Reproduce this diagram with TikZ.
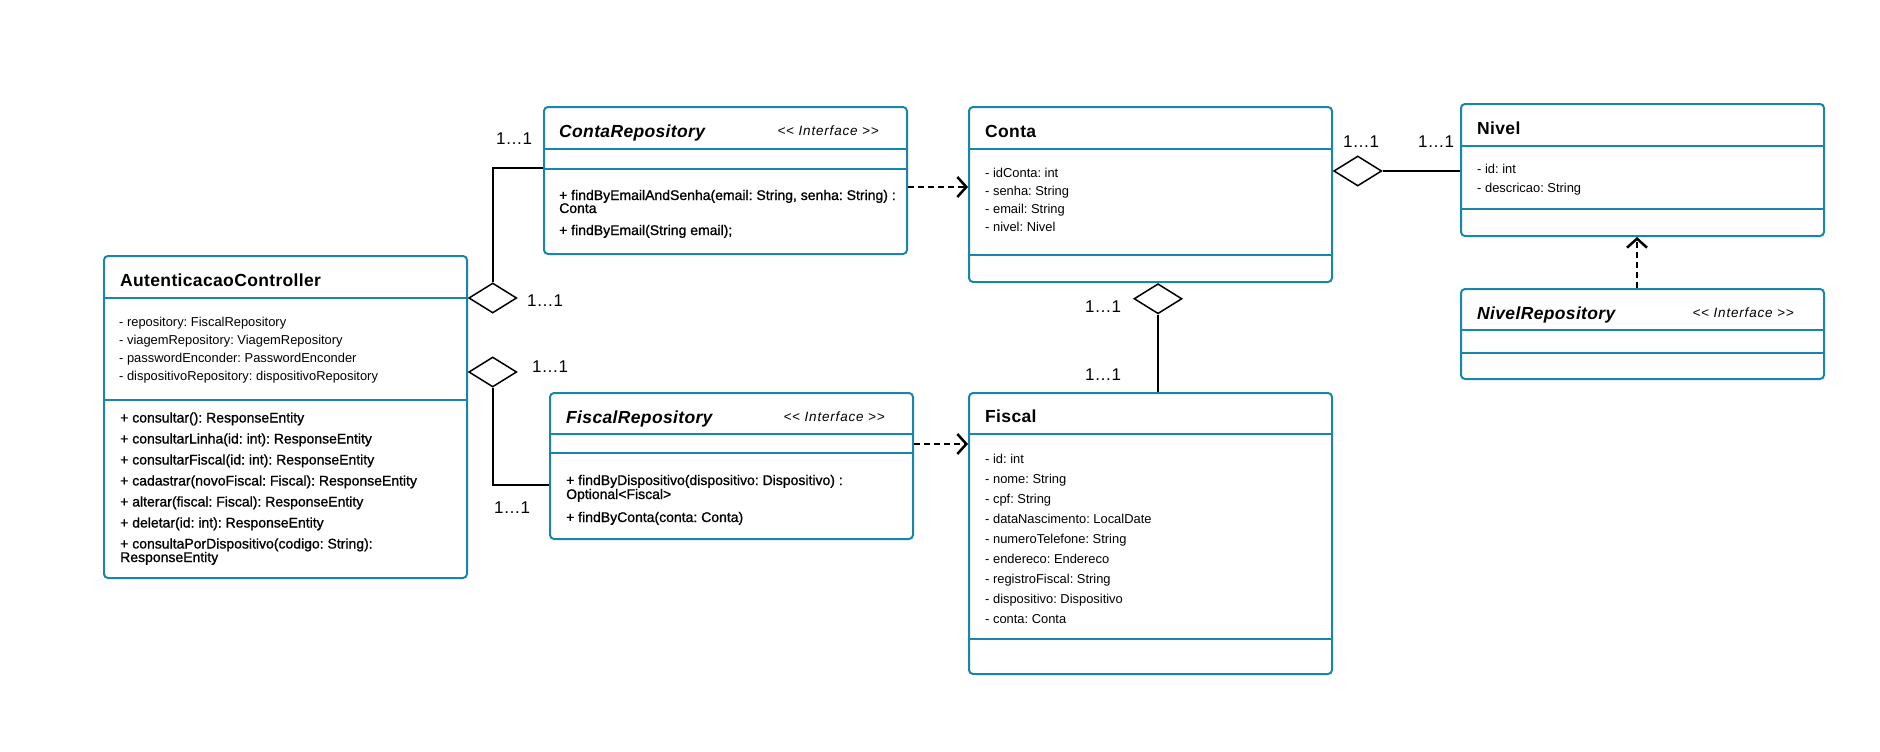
\documentclass[tikz,border=0pt]{standalone}
\usepackage{fontspec}
\setmainfont{Liberation Sans}
\newfontfamily\medfont[FakeBold=1]{Liberation Sans}
\newfontfamily\stereofont[LetterSpace=6]{Liberation Sans}
\newfontfamily\titlefont[LetterSpace=2]{Liberation Sans}
\usetikzlibrary{shapes.geometric,arrows.meta}
\frenchspacing

\definecolor{umlblue}{RGB}{24,133,170}

\tikzset{
  umlbox/.style={draw=umlblue, line width=2pt, rounded corners=4pt,
    anchor=north west, minimum width=363pt, inner sep=0pt},
  sep/.style={draw=umlblue, line width=2pt},
  title/.style={font=\titlefont\bfseries\fontsize{17.5}{20}\selectfont, anchor=base west, inner sep=0pt},
  ititle/.style={font=\titlefont\bfseries\itshape\fontsize{17.5}{20}\selectfont, anchor=base west, inner sep=0pt},
  stereo/.style={font=\stereofont\itshape\fontsize{13.5}{16}\selectfont, anchor=base east, inner sep=0pt},
  attr/.style={font=\fontsize{12.9}{15}\selectfont, anchor=base west, inner sep=0pt},
  oper/.style={font=\medfont\fontsize{14}{16}\selectfont, anchor=base west, inner sep=0pt},
  mult/.style={font=\fontsize{17}{20}\selectfont, inner sep=0pt},
  agg/.style={diamond, draw, line width=1.5pt, fill=white, minimum width=48pt,
    minimum height=30pt, inner sep=0pt},
  assoc/.style={line width=1.8pt},
  dep/.style={line width=2.5pt, dash pattern=on 6pt off 4pt,
    -{Straight Barb[length=9pt,width=20pt]}}
}

\begin{document}
\begin{tikzpicture}[x=1pt, y=-1pt]
  \useasboundingbox (0,0) rectangle (1880,752);

  % caixas das classes
  \node[umlbox, minimum height=322pt] (ctrl) at (103,255) {};
  \node[umlbox, minimum height=147pt] (contarepo) at (543,106) {};
  \node[umlbox, minimum height=146pt] (fiscalrepo) at (549,392) {};
  \node[umlbox, minimum height=175pt] (conta) at (968,106) {};
  \node[umlbox, minimum height=281pt] (fiscal) at (968,392) {};
  \node[umlbox, minimum height=132pt] (nivel) at (1460,103) {};
  \node[umlbox, minimum height=90pt] (nivelrepo) at (1460,288) {};

  % divisorias
  \draw[sep] (103,298) -- (466,298);
  \draw[sep] (103,400) -- (466,400);
  \draw[sep] (543,149) -- (906,149);
  \draw[sep] (543,169) -- (906,169);
  \draw[sep] (549,434) -- (912,434);
  \draw[sep] (549,453) -- (912,453);
  \draw[sep] (968,149) -- (1331,149);
  \draw[sep] (968,255) -- (1331,255);
  \draw[sep] (968,434) -- (1331,434);
  \draw[sep] (968,639) -- (1331,639);
  \draw[sep] (1460,146) -- (1823,146);
  \draw[sep] (1460,209) -- (1823,209);
  \draw[sep] (1460,330) -- (1823,330);
  \draw[sep] (1460,353) -- (1823,353);

  % AutenticacaoController
  \node[title] (ctrltitle) at (120,286) {AutenticacaoController};
  \foreach \t [count=\i from 0] in {- repository: FiscalRepository,
      - viagemRepository: ViagemRepository,
      - passwordEnconder: PasswordEnconder,
      - dispositivoRepository: dispositivoRepository} {
    \node[attr] (ctrlattr\i) at (119,326.5+18*\i) {\t};
  }
  \foreach \t [count=\i from 0] in {+ consultar(): ResponseEntity,
      + consultarLinha(id: int): ResponseEntity,
      + consultarFiscal(id: int): ResponseEntity,
      + cadastrar(novoFiscal: Fiscal): ResponseEntity,
      + alterar(fiscal: Fiscal): ResponseEntity,
      + deletar(id: int): ResponseEntity,
      + consultaPorDispositivo(codigo: String):} {
    \node[oper] (ctrlop\i) at (120,422.5+21*\i) {\t};
  }
  \node[oper] (ctrlop7) at (120,562) {ResponseEntity};

  % ContaRepository
  \node[ititle] (contarepotitle) at (559,137) {ContaRepository};
  \node[stereo] (contarepostereo) at (879,135.5) {<{}< Interface >{}>};
  \node[oper] (contarepoop0) at (559,200) {+ findByEmailAndSenha(email: String, senha: String) :};
  \node[oper] (contarepoop1) at (559,213) {Conta};
  \node[oper] (contarepoop2) at (559,235) {+ findByEmail(String email);};

  % FiscalRepository
  \node[ititle] (fiscalrepotitle) at (566,423) {FiscalRepository};
  \node[stereo] (fiscalrepostereo) at (885,421.5) {<{}< Interface >{}>};
  \node[oper] (fiscalrepoop0) at (566,485) {+ findByDispositivo(dispositivo: Dispositivo) :};
  \node[oper] (fiscalrepoop1) at (566,499) {Optional<Fiscal>};
  \node[oper] (fiscalrepoop2) at (566,522) {+ findByConta(conta: Conta)};

  % Conta
  \node[title] (contatitle) at (985,137) {Conta};
  \foreach \t [count=\i from 0] in {- idConta: int, - senha: String,
      - email: String, - nivel: Nivel} {
    \node[attr] (contaattr\i) at (985,177+18*\i) {\t};
  }

  % Fiscal
  \node[title] (fiscaltitle) at (985,422) {Fiscal};
  \foreach \t [count=\i from 0] in {- id: int, - nome: String, - cpf: String,
      - dataNascimento: LocalDate, - numeroTelefone: String,
      - endereco: Endereco, - registroFiscal: String,
      - dispositivo: Dispositivo, - conta: Conta} {
    \node[attr] (fiscalattr\i) at (985,463.5+20*\i) {\t};
  }

  % Nivel
  \node[title] (niveltitle) at (1477,134) {Nivel};
  \node[attr] (nivelattr0) at (1477,173.5) {- id: int};
  \node[attr] (nivelattr1) at (1477,192.5) {- descricao: String};

  % NivelRepository
  \node[ititle] (nivelrepotitle) at (1477,319) {NivelRepository};
  \node[stereo] (nivelrepostereo) at (1794,317.5) {<{}< Interface >{}>};

  % agregacoes
  \node[agg, anchor=west] (d1) at (ctrl.east |- 0,298) {};
  \node[agg, anchor=west] (d2) at (ctrl.east |- 0,372) {};
  \node[agg, anchor=north] (d3) at ([xshift=7.5pt]conta.south) {};
  \node[agg, anchor=west] (d4) at (conta.east |- 0,171) {};

  \draw[assoc] (d1.north) |- (contarepo.west |- 0,168);
  \draw[assoc] (d2.south) |- (fiscalrepo.west |- 0,485);
  \draw[assoc] (d3.south) -- (d3.south |- fiscal.north);
  \draw[assoc] (d4.east) -- (d4.east -| nivel.west);

  % dependencias
  \draw[dep] (contarepo.east |- 0,187) -- (conta.west |- 0,187);
  \draw[dep] (fiscalrepo.east |- 0,444) -- (fiscal.west |- 0,444);
  \draw[dep] (nivelrepo.north -| 1637,0) -- (nivel.south -| 1637,0);

  % multiplicidades
  \node[mult] (m1) at (514,139) {1…1};
  \node[mult] (m2) at (545,301) {1…1};
  \node[mult] (m3) at (550,367) {1…1};
  \node[mult] (m4) at (512,508) {1…1};
  \node[mult] (m5) at (1103,307) {1…1};
  \node[mult] (m6) at (1103,375) {1…1};
  \node[mult] (m7) at (1361,142) {1…1};
  \node[mult] (m8) at (1436,142) {1…1};
\end{tikzpicture}
\end{document}
